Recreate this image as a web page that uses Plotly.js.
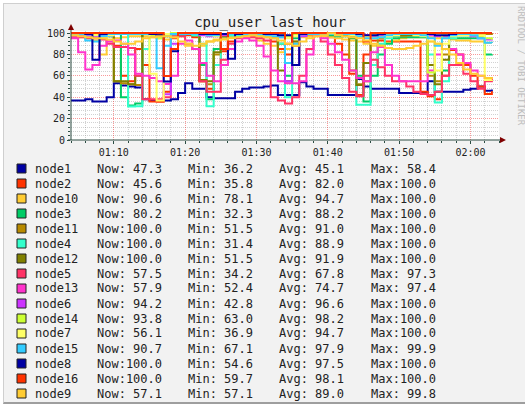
<!DOCTYPE html>
<html><head><meta charset="utf-8">
<script src="https://cdn.plot.ly/plotly-3.0.1.min.js"></script>
<style>
html,body{margin:0;padding:0;background:#fff;}
#frame{position:absolute;left:3px;top:3px;width:522px;height:398px;background:#f2f2f2;border-top:1px solid #cfcfcf;border-left:1px solid #cfcfcf;border-bottom:2px solid #9e9e9e;}
#chart{position:absolute;left:0;top:0;width:525px;height:409px;}
</style></head>
<body><div id="frame"></div><div id="chart"></div>
<script>
// ---- data (one value per minute, 01:04 .. 02:03) ----
const names  = ["node1","node2","node10","node3","node11","node4","node12","node5","node13","node6","node14","node7","node15","node8","node16","node9"];
const colors = ["#0000A3","#FF3300","#FFCC33","#00CC66","#B88A00","#33FFCC","#808000","#FF3366","#FF33CC","#CC33FF","#CCFF33","#FFFF66","#33CCFF","#0000A3","#FF3300","#FFCC33"];
const nowVals = ["47.3","45.6","90.6","80.2","100.0","100.0","100.0","57.5","57.9","94.2","93.8","56.1","90.7","100.0","100.0","57.1"];
const minVals = ["36.2","35.8","78.1","32.3","51.5","31.4","51.5","34.2","52.4","42.8","63.0","36.9","67.1","54.6","59.7","57.1"];
const avgVals = ["45.1","82.0","94.7","88.2","91.0","88.9","91.9","67.8","74.7","96.6","98.2","94.7","97.9","97.5","98.1","89.0"];
const maxVals = ["58.4","100.0","100.0","100.0","100.0","100.0","100.0","97.3","97.4","100.0","100.0","100.0","99.9","100.0","100.0","99.8"];

const node1  = [37,37,38,36,36,40,53,51,50,49, 38,37,37,37,38,44,53,48,48,40, 39,39,39,45,48,49,49,50,51,42, 42,42,54,50,48,48,42,42,42,42, 57,50,48,48,48,48,44,44,44,44, 55,45,45,45,45,47,48,50,46,47.3];
const node2  = [100,99,98,98,97,97,88,60,55,85, 70,36,35.8,45,95,98,98,96,55,48, 70,83,92,97,98,98,97,96,92,85, 80,88,97,98,98,97,96,90,80,62, 42,80,93,93,92,92,92,92,92,45, 41,38,60,84,80,70,60,50,43,45.6];
const node10 = [96,96,95,93,80,92,95,96,97,97, 97,96,95,94,96,97,88,85,88,92, 94,95,96,97,97,96,93,90,88,82, 85,92,96,97,97,97,96,95,94,93, 92,90,88,89,91,93,95,96,96,96, 96,95,95,94,93,93,92,92,91,90.6];
const node3  = [99,99,99,98,98,98,100,40,32.3,34, 100,99,98,97,97,98,99,98,70,38, 85,97,98,98,99,99,98,97,96,90, 60,95,98,99,99,99,98,97,97,95, 60,36,60,80,90,95,96,96,96,96, 70,45,65,95,95,95,95,95,80,80.2];
const node11 = [99,99,99,98,98,98,55,53,52,51.5, 100,100,99,99,99,99,99,98,55,52, 80,97,99,99,99,99,98,97,95,90, 55,70,98,99,99,99,99,98,98,65, 52,55,70,95,97,97,97,98,98,98, 60,55,80,98,98,98,98,99,99,100];
const node4  = [98,98,98,97,97,97,99,99,31.4,31.5, 85,99,99,98,98,99,99,98,90,31.5, 70,97,98,98,99,99,98,97,96,90, 40,90,98,99,99,99,99,98,98,97, 33,33,70,90,95,97,98,98,98,98, 80,35,55,95,98,98,99,100,100,100];
const node12 = [100,100,99,99,99,99,55,55,52,60, 100,100,99,99,99,99,99,99,56,55, 82,97,99,99,99,99,99,98,96,65, 55,92,99,99,99,99,99,99,98,96, 51.5,72,96,98,98,98,98,98,99,99, 70,52,75,98,99,99,99,100,100,100];
const node5  = [96,96,95,95,94,90,87,87,86,60, 38,38,38,40,97,97,90,85,55,45, 45,75,90,95,96,96,95,93,40,37, 34.2,40,60,85,97.3,92,80,70,58,45, 41,60,75,68,60,55,55,50,45,43, 42,45,60,70,70,62,55,48,55,57.5];
const node13 = [95,82,66,70,88,92,93,90,80,62, 60,58,55,52.4,60,90,93,85,72,60, 55,70,85,92,95,93,88,78,65,55, 53,53,55,80,97.4,95,90,82,75,65, 58,55,82,87,70,60,55,55,55,55, 65,80,85,85,80,72,65,60,58,57.9];
const node6  = [98,98,97,97,97,98,99,99,99,99, 99,98,97,42.8,90,99,99,99,98,97, 97,98,99,99,99,99,99,98,97,96, 55,70,97,99,99,99,99,99,99,99, 99,98,97,97,98,99,99,99,99,99, 98,97,97,98,99,99,97,95,94,94.2];
const node14 = [99,99,99,99,99,99,100,100,100,99, 99,98,95,99,100,100,100,100,99,99, 99,99,100,100,100,100,100,99,99,98, 97,99,100,100,100,100,100,100,100,99, 97,96,98,99,99,100,100,100,100,99, 63,90,98,99,99,99,99,97,95,93.8];
const node7  = [99,99,99,98,95,98,99,99,99,99, 99,62,36.9,99,99,99,99,99,99,98, 97,99,99,99,99,99,99,98,97,96, 95,97,99,99,99,99,99,99,99,98, 97,96,95,96,97,98,99,99,98,97, 92,65,90,97,98,98,98,98,56,56.1];
const node15 = [99,99,93,92,97,99,99,99,99,99, 99,99,67.1,88,99,99,99,99,99,98, 98,99,99,99,99,99,99,98,97,96, 72,90,99,99,99,99,99,99,99,99, 97,95,95,96,98,99,99,99,99,98, 95,88,95,98,99,99,98,95,91,90.7];
const node8  = [100,100,99,75,99,100,100,100,100,100, 100,99,98,54.6,83,100,100,100,99,99, 99,99,76,99,100,100,100,99,99,98, 98,70,99,100,100,100,100,100,100,100, 99,98,98,99,100,100,100,100,100,100, 99,98,98,99,100,100,100,100,100,100];
const node16 = [100,100,100,100,100,100,100,100,100,100, 100,100,100,59.7,85,100,100,100,100,100, 100,85,100,100,100,100,100,100,100,100, 90,100,100,100,100,100,100,100,100,100, 100,92,100,100,100,100,100,100,100,100, 100,100,100,100,100,100,100,100,100,100];
const node9  = [98,97,96,95,95,94,92,90,90,92, 95,96,97,97,96,92,90,88,90,92, 93,94,95,96,97,98,97,96,95,93, 90,88,92,95,97,98,99.8,98,97,96, 95,93,90,88,86,85,85,86,88,90, 92,90,85,80,72,66,62,60,58,57.1];

const series = [node1,node2,node10,node3,node11,node4,node12,node5,node13,node6,node14,node7,node15,node8,node16,node9];

// time stamps: one per minute starting 01:04
function tstr(i){const m=4+i;const h=1+Math.floor(m/60);const mm=m%60;return '2024-01-01 0'+h+':'+String(mm).padStart(2,'0')+':00';}
const times = node1.map((_,i)=>tstr(i));

// ---- geometry (pixels) ----
const W=525,H=409,PL=71,PR=499,PT=31,PB=140;
const px=x=>(x-PL)/(PR-PL), py=y=>(PB-y)/(PB-PT);
const yTop = (PB-PT)/1.07; // 100 at y=33

const traces = series.map((v,k)=>({x:times,y:v,type:'scatter',mode:'lines',
  line:{color:colors[k],width:2,shape:'hv'},hoverinfo:'skip'}));

const mono='DejaVu Sans Mono';
const shapes=[], ann=[];
// axes + arrows
shapes.push({type:'line',xref:'paper',yref:'paper',x0:px(PL),x1:px(PL),y0:py(PB),y1:py(27),line:{color:'#2C4D43',width:1}});
shapes.push({type:'line',xref:'paper',yref:'paper',x0:px(68),x1:px(503),y0:py(PB),y1:py(PB),line:{color:'#2C4D43',width:1}});
shapes.push({type:'path',xref:'paper',yref:'paper',path:`M ${px(PL-3)} ${py(30)} L ${px(PL+3)} ${py(30)} L ${px(PL)} ${py(24)} Z`,fillcolor:'#7F0000',line:{width:0}});
shapes.push({type:'path',xref:'paper',yref:'paper',path:`M ${px(500)} ${py(PB-3)} L ${px(500)} ${py(PB+3)} L ${px(506)} ${py(PB)} Z`,fillcolor:'#7F0000',line:{width:0}});

// legend
const cols=[95,186,277,369];
names.forEach((n,k)=>{
  const y=168.5+15*k;
  shapes.push({type:'rect',xref:'paper',yref:'paper',x0:px(17),x1:px(26),y0:py(y-4.5),y1:py(y+4.5),fillcolor:colors[k],line:{color:'#222',width:1}});
  const txt=[n,'Now:'+(nowVals[k].length<5?' ':'')+nowVals[k],'Min:'+(minVals[k].length<5?' ':'')+minVals[k],'Avg:'+(avgVals[k].length<5?' ':'')+avgVals[k],'Max:'+(maxVals[k].length<5?' ':'')+maxVals[k]];
  const xs=[33].concat(cols);
  txt.forEach((t,j)=>ann.push({xref:'paper',yref:'paper',x:px(xs[j]),y:py(y),text:t,showarrow:false,xanchor:'left',yanchor:'middle',font:{family:mono,size:12,color:'#222'}}));
});
// watermark
ann.push({xref:'paper',yref:'paper',x:px(521),y:py(66),text:'RRDTOOL / TOBI OETIKER',textangle:90,showarrow:false,xanchor:'center',yanchor:'middle',font:{family:mono,size:9,color:'#bcbcbc'}});

const layout={
  width:W,height:H,margin:{l:PL,r:W-PR,t:PT,b:H-PB,pad:0},
  paper_bgcolor:'rgba(0,0,0,0)',plot_bgcolor:'#ffffff',showlegend:false,
  title:{text:'cpu_user last hour',font:{family:mono,size:14,color:'#222'},xref:'container',x:270/W,xanchor:'center',yref:'container',y:1-22/H,yanchor:'middle'},
  xaxis:{type:'date',range:['2024-01-01 01:04:00','2024-01-01 02:04:00'],tickformat:'%H:%M',tick0:'2024-01-01 01:00:00',dtick:600000,
    showgrid:true,gridcolor:'rgba(240,0,0,0.4)',griddash:'1px,1px',gridwidth:1,
    minor:{dtick:120000,showgrid:true,gridcolor:'rgba(143,143,143,0.4)',griddash:'1px,1px',ticks:'outside',ticklen:2,tickcolor:'#2C4D43'},
    ticks:'outside',ticklen:3,tickcolor:'#2C4D43',tickfont:{family:mono,size:10,color:'#222'},zeroline:false,showline:false,fixedrange:true},
  yaxis:{range:[0,yTop],tick0:0,dtick:20,showgrid:true,gridcolor:'rgba(240,0,0,0.4)',griddash:'1px,1px',gridwidth:1,
    minor:{dtick:4,showgrid:true,gridcolor:'rgba(143,143,143,0.4)',griddash:'1px,1px',ticks:'outside',ticklen:2,tickcolor:'#2C4D43'},
    ticks:'outside',ticklen:3,tickcolor:'#2C4D43',tickfont:{family:mono,size:10,color:'#222'},zeroline:false,showline:false,fixedrange:true},
  shapes:shapes,annotations:ann
};
Plotly.newPlot('chart',traces,layout,{displayModeBar:false,staticPlot:true});
</script></body></html>
